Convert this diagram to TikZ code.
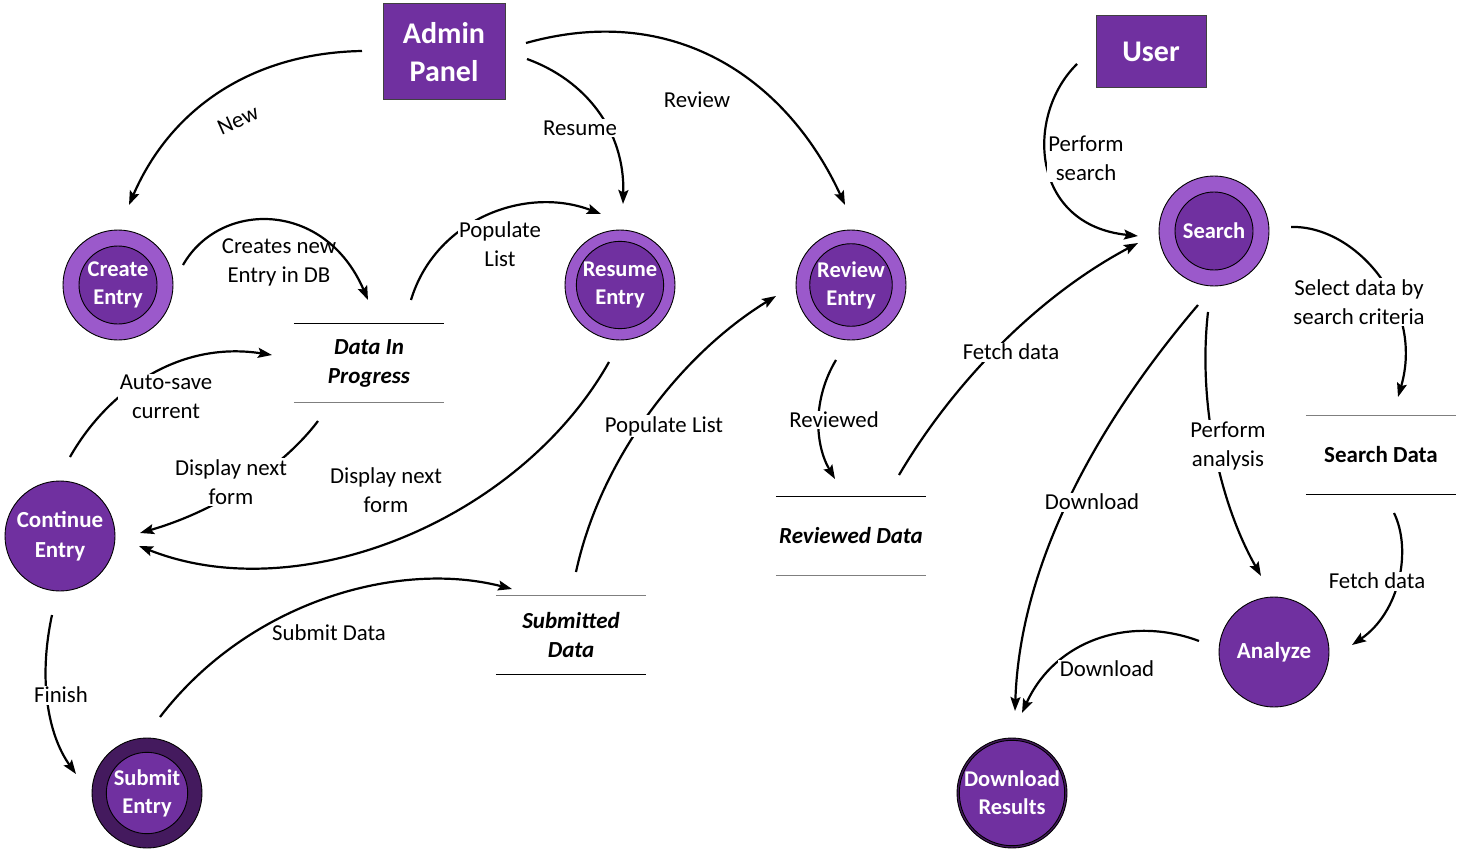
\documentclass[tikz,border=0pt]{standalone}
\usepackage{fontspec}
\setmainfont{Carlito}
\usetikzlibrary{arrows.meta}
\definecolor{plight}{HTML}{9B59CB}
\definecolor{pmain}{HTML}{7030A0}
\definecolor{pdark}{HTML}{441A5E}
\definecolor{sgray}{HTML}{7F7F7F}
\begin{document}
\begin{tikzpicture}[x=1pt,y=-1pt,
  lbl/.style={font=\fontsize{22.8}{29}\selectfont, align=center, inner sep=1.5pt},
  lblw/.style={lbl, fill=white},
  conn/.style={line width=2.2pt, -{Stealth[length=14pt,width=10pt,inset=2.5pt]}},
  actor/.style={draw=black!75, line width=1pt, fill=pmain, text=white,
     font=\bfseries\fontsize{30}{38}\selectfont, align=center},
  ringlight/.style={circle, draw=black, line width=0.9pt, fill=plight, minimum size=110pt, inner sep=0pt},
  ringdark/.style={circle, draw=black, line width=0.9pt, fill=pdark, minimum size=110pt, inner sep=0pt},
  core/.style={circle, draw=black, line width=0.9pt, fill=pmain, minimum size=78pt, inner sep=0pt,
     text=white, font=\bfseries\fontsize{22.5}{28}\selectfont, align=center},
  single/.style={circle, draw=black, line width=0.9pt, fill=pmain, minimum size=110pt, inner sep=0pt,
     text=white, font=\bfseries\fontsize{23}{30}\selectfont, align=center},
  store/.style={minimum width=150pt, minimum height=78pt, inner sep=0pt, align=center,
     font=\bfseries\itshape\fontsize{23}{29}\selectfont}
]
\useasboundingbox (0,0) rectangle (1461,853);

% actors
\node[actor, minimum width=122pt, minimum height=96pt] (admin) at (444,52) {Admin\\Panel};
\node[actor, minimum width=110pt, minimum height=72pt] (user) at (1151,52) {User};

% processes
\node[ringlight] (create) at (118,285) {};
\node[core] (createc) at (create.center) {Create\\Entry};
\node[ringlight] (resume) at (620,285) {};
\node[core] (resumec) at (resume.center) {Resume\\Entry};
\node[ringlight] (review) at (851,285) {};
\node[core] (reviewc) at (review.center) {Review\\Entry};
\node[ringlight] (search) at (1214,231) {};
\node[core] (searchc) at (search.center) {Search};
\node[single] (cont) at (60,536) {Continue\\Entry};
\node[ringdark] (submit) at (147,793) {};
\node[core, minimum size=74pt] (submitc) at (submit.center) {Submit\\Entry};
\node[single] (analyze) at (1274,652) {Analyze};
\node[ringdark] (dl) at (1012,793) {};
\node[core] (dlc) at (dl.center) {Download\\Results};

% data stores
\node[store] (dip) at (369,363) {Data In\\Progress};
\draw[line width=1.3pt] (dip.north west) -- (dip.north east);
\draw[line width=1.3pt, sgray] (dip.south west) -- (dip.south east);
\node[store] (sub) at (571,635) {Submitted\\Data};
\draw[line width=1.3pt, sgray] (sub.north west) -- (sub.north east);
\draw[line width=1.3pt] (sub.south west) -- (sub.south east);
\node[store] (rev) at (851,536) {Reviewed Data};
\draw[line width=1.3pt] (rev.north west) -- (rev.north east);
\draw[line width=1.3pt, sgray] (rev.south west) -- (rev.south east);
\node[store, font=\bfseries\fontsize{23}{29}\selectfont] (sd) at (1381,455) {Search Data};
\draw[line width=1.3pt, sgray] (sd.north west) -- (sd.north east);
\draw[line width=1.3pt] (sd.south west) -- (sd.south east);

% connector end points
\coordinate (aNew) at (362,51);   \coordinate (bNew) at (129,205);
\coordinate (aRes) at (527,59);   \coordinate (bRes) at (623,204);
\coordinate (aRev) at (526,43);   \coordinate (bRev) at (845,205);
\coordinate (aCr) at (183,265);   \coordinate (bCr) at (368,300);
\coordinate (aPop) at (411,300);  \coordinate (bPop) at (601,214);
\coordinate (aAuto) at (70,457);  \coordinate (bAuto) at (272,355);
\coordinate (aDn) at (318,421);   \coordinate (bDn) at (140,533);
\coordinate (aDn2) at (609,362);  \coordinate (bDn2) at (139,546);
\coordinate (aPop2) at (576,572); \coordinate (bPop2) at (776,296);
\coordinate (aRvd) at (836,360);  \coordinate (bRvd) at (835,479);
\coordinate (aF1) at (899,475);   \coordinate (bF1) at (1138,243);
\coordinate (aPs) at (1077,64);   \coordinate (bPs) at (1138,236);
\coordinate (aSel) at (1291,227); \coordinate (bSel) at (1398,397);
\coordinate (aPa) at (1208,312);  \coordinate (bPa) at (1261,576);
\coordinate (aDl) at (1198,305);  \coordinate (bDl) at (1015,711);
\coordinate (aF2) at (1394,513);  \coordinate (bF2) at (1352,645);
\coordinate (aDl2) at (1199,641); \coordinate (bDl2) at (1022,713);
\coordinate (aFin) at (52,615);   \coordinate (bFin) at (76,774);
\coordinate (aSub) at (160,717);  \coordinate (bSub) at (512,589);

% connectors
\draw[conn] (aNew) .. controls (250,53) and (170,110) .. (bNew);
\node[lbl, rotate=24, inner sep=0pt] at (238,120) {New};

\draw[conn] (aRes) .. controls (585,80) and (625,130) .. (bRes);
\node[lblw] at (580,128) {Resume};

\draw[conn] (aRev) .. controls (680,0) and (790,85) .. (bRev);
\node[lbl] at (697,100) {Review};

\draw[conn] (aCr) .. controls (220,200) and (325,200) .. (bCr);
\node[lbl] at (279,262) {Creates new\\Entry in DB};

\draw[conn] (aPop) .. controls (435,220) and (525,185) .. (bPop);
\node[lblw] at (500,244) {Populate\\List};

\draw[conn] (aAuto) .. controls (105,395) and (175,340) .. (bAuto);
\node[lblw] at (166,397) {Auto-save\\current};

\draw[conn] (aDn) .. controls (285,465) and (220,510) .. (bDn);
\node[lblw] at (231,482) {Display next\\form};

\draw[conn] (aDn2) .. controls (520,520) and (300,610) .. (bDn2);
\node[lbl] at (386,490) {Display next\\form};

\draw[conn] (aPop2) .. controls (600,460) and (680,355) .. (bPop2);
\node[lblw] at (664,426) {Populate List};

\draw[conn] (aRvd) .. controls (812,400) and (815,445) .. (bRvd);
\node[lblw] at (834,420) {Reviewed};

\draw[conn] (aF1) .. controls (955,380) and (1040,295) .. (bF1);
\node[lblw] at (1011,352) {Fetch data};

\draw[conn] (aPs) .. controls (1025,115) and (1030,225) .. (bPs);
\node[lblw] at (1086,158) {Perform\\search};

\draw[conn] (aSel) .. controls (1355,225) and (1425,305) .. (bSel);
\node[lblw] at (1359,302) {Select data by\\search criteria};

\draw[conn] (aPa) .. controls (1198,400) and (1218,500) .. (bPa);
\node[lblw] at (1228,446) {Perform\\analysis};

\draw[conn] (aDl) .. controls (1100,420) and (1020,560) .. (bDl);
\node[lblw] at (1092,502) {Download};

\draw[conn] (aF2) .. controls (1412,550) and (1400,612) .. (bF2);
\node[lblw] at (1377,581) {Fetch data};

\draw[conn] (aDl2) .. controls (1130,615) and (1055,640) .. (bDl2);
\node[lblw] at (1107,669) {Download};

\draw[conn] (aFin) .. controls (38,680) and (48,735) .. (bFin);
\node[lblw] at (61,695) {Finish};

\draw[conn] (aSub) .. controls (250,600) and (400,560) .. (bSub);
\node[lbl] at (329,633) {Submit Data};
\end{tikzpicture}
\end{document}
